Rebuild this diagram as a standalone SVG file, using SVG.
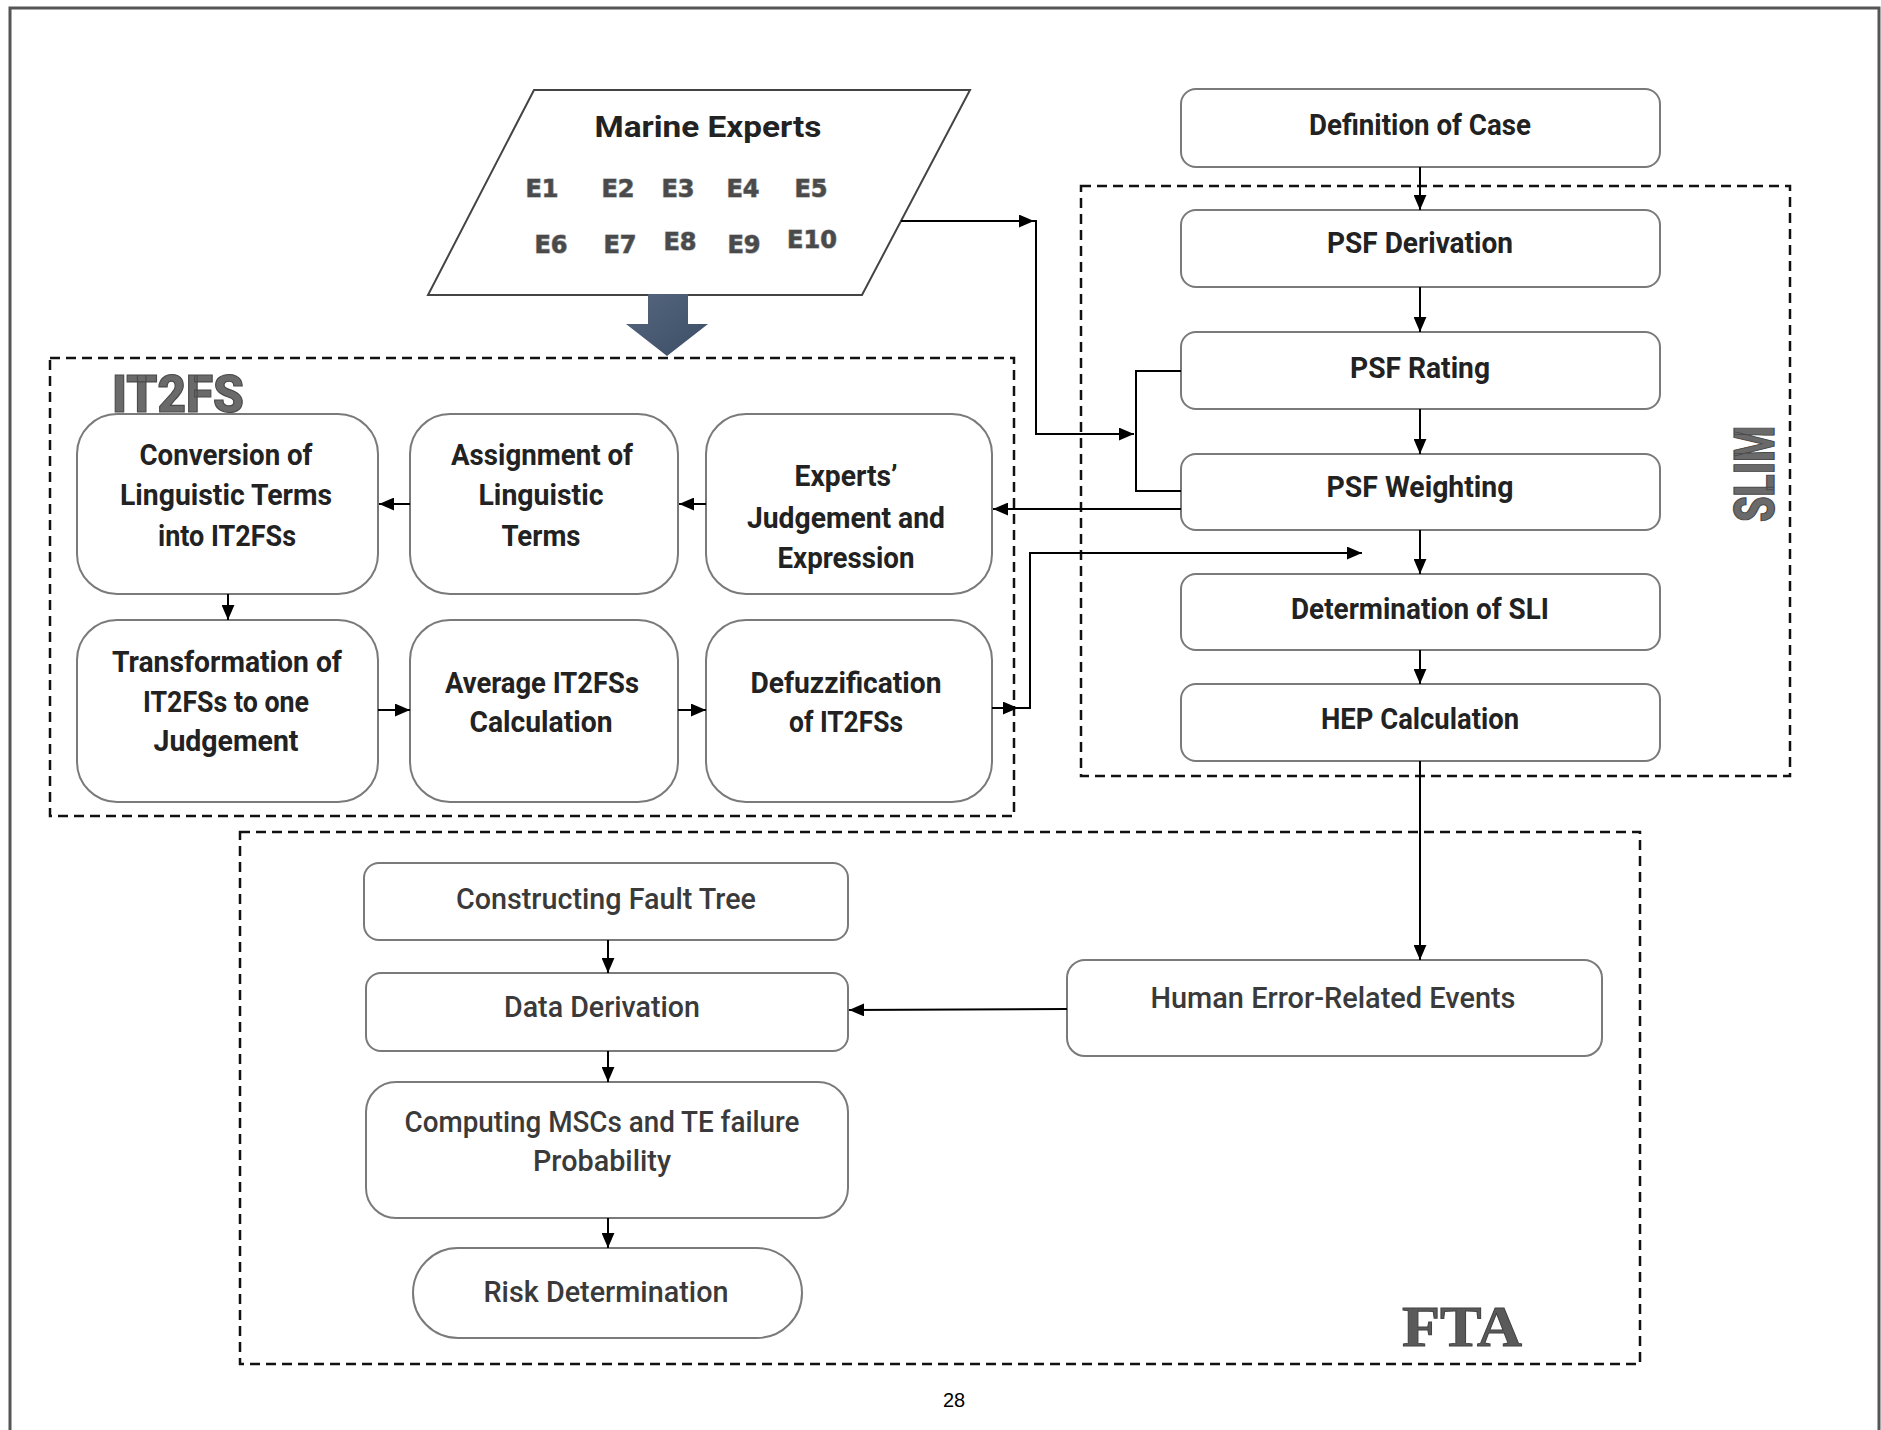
<svg xmlns="http://www.w3.org/2000/svg" width="1881" height="1430" viewBox="0 0 1881 1430">
<defs>
<style>
.box{fill:#fff;stroke:#7a7a7a;stroke-width:2}
.grp{fill:none;stroke:#111;stroke-width:2.5;stroke-dasharray:10 6}
.t{font-family:Roboto,"Liberation Sans",sans-serif;font-weight:700;font-size:30px;fill:#222;text-anchor:middle}
.tf{font-family:Roboto,"Liberation Sans",sans-serif;font-weight:500;font-size:30px;fill:#3a3a3a;text-anchor:middle}
.e{font-family:"DejaVu Sans",sans-serif;font-weight:700;font-size:24px;fill:#4a4a4a;stroke:#9a9a9a;stroke-width:1.2;paint-order:stroke;text-anchor:middle}
.lbl{font-family:Roboto,"Liberation Sans",sans-serif;font-weight:900;fill:#6a6a6a;stroke:#4a4a4a;stroke-width:1.2}
.c{fill:none;stroke:#000;stroke-width:2}
</style>
<marker id="ah" viewBox="0 0 14 12" refX="14" refY="6" markerWidth="15" markerHeight="13" markerUnits="userSpaceOnUse" orient="auto">
<path d="M0,0 L14,6 L0,12 z" fill="#000"/>
</marker>
<linearGradient id="blue" x1="0" y1="0" x2="1" y2="1">
<stop offset="0" stop-color="#55667e"/>
<stop offset="1" stop-color="#3c4d66"/>
</linearGradient>
</defs>

<rect x="10" y="8" width="1869" height="1440" fill="#fff" stroke="#555" stroke-width="3"/>

<g id="groups">
<rect class="grp" x="50" y="358" width="964" height="458"/>
<rect class="grp" x="1081" y="186" width="709" height="590"/>
<rect class="grp" x="240" y="832" width="1400" height="532"/>
<text class="lbl" x="112" y="412" font-size="52" textLength="132" lengthAdjust="spacingAndGlyphs">IT2FS</text>
<text class="lbl" transform="translate(1774,474) rotate(-90)" text-anchor="middle" font-size="56" textLength="96" lengthAdjust="spacingAndGlyphs">SLIM</text>
<text x="1402" y="1346" font-family="'Liberation Serif',serif" font-weight="700" font-size="56" fill="#5a5a5a" stroke="#444" stroke-width="1" textLength="120" lengthAdjust="spacingAndGlyphs">FTA</text>
</g>

<g id="marine-experts">
<polygon points="534,90 970,90 862,295 428,295" fill="#fff" stroke="#444" stroke-width="2"/>
<text class="t" x="708" y="137" font-size="35" font-weight="500" fill="#333" textLength="227" lengthAdjust="spacingAndGlyphs">Marine Experts</text>
<text class="e" x="542" y="197">E1</text>
<text class="e" x="618" y="197">E2</text>
<text class="e" x="678" y="197">E3</text>
<text class="e" x="743" y="197">E4</text>
<text class="e" x="811" y="197">E5</text>
<text class="e" x="551" y="253">E6</text>
<text class="e" x="620" y="253">E7</text>
<text class="e" x="680" y="250">E8</text>
<text class="e" x="744" y="253">E9</text>
<text class="e" x="812" y="248">E10</text>
</g>

<g id="block-arrow">
<path d="M648,294 H688 V324 H708 L667,356 L626,324 H648 Z" fill="url(#blue)"/>
</g>

<g id="def-case"><rect class="box" x="1181" y="89" width="479" height="78" rx="15"/>
<text class="t" x="1420" y="135" textLength="222" lengthAdjust="spacingAndGlyphs">Definition of Case</text></g>
<g id="psf-derivation"><rect class="box" x="1181" y="210" width="479" height="77" rx="15"/>
<text class="t" x="1420" y="253" textLength="186" lengthAdjust="spacingAndGlyphs">PSF Derivation</text></g>
<g id="psf-rating"><rect class="box" x="1181" y="332" width="479" height="77" rx="15"/>
<text class="t" x="1420" y="378" textLength="140" lengthAdjust="spacingAndGlyphs">PSF Rating</text></g>
<g id="psf-weighting"><rect class="box" x="1181" y="454" width="479" height="76" rx="15"/>
<text class="t" x="1420" y="497" textLength="187" lengthAdjust="spacingAndGlyphs">PSF Weighting</text></g>
<g id="sli"><rect class="box" x="1181" y="574" width="479" height="76" rx="15"/>
<text class="t" x="1420" y="619" textLength="258" lengthAdjust="spacingAndGlyphs">Determination of SLI</text></g>
<g id="hep"><rect class="box" x="1181" y="684" width="479" height="77" rx="15"/>
<text class="t" x="1420" y="729" textLength="198" lengthAdjust="spacingAndGlyphs">HEP Calculation</text></g>

<g id="conversion"><rect class="box" x="77" y="414" width="301" height="180" rx="40"/>
<text class="t" x="226" y="465" textLength="173" lengthAdjust="spacingAndGlyphs">Conversion of</text>
<text class="t" x="226" y="505" textLength="212" lengthAdjust="spacingAndGlyphs">Linguistic Terms</text>
<text class="t" x="227" y="546" textLength="138" lengthAdjust="spacingAndGlyphs">into IT2FSs</text></g>
<g id="assignment"><rect class="box" x="410" y="414" width="268" height="180" rx="40"/>
<text class="t" x="542" y="465" textLength="182" lengthAdjust="spacingAndGlyphs">Assignment of</text>
<text class="t" x="541" y="505" textLength="125" lengthAdjust="spacingAndGlyphs">Linguistic</text>
<text class="t" x="541" y="546" textLength="79" lengthAdjust="spacingAndGlyphs">Terms</text></g>
<g id="experts-judgement"><rect class="box" x="706" y="414" width="286" height="180" rx="40"/>
<text class="t" x="846" y="486" textLength="103" lengthAdjust="spacingAndGlyphs">Experts’</text>
<text class="t" x="846" y="528" textLength="198" lengthAdjust="spacingAndGlyphs">Judgement and</text>
<text class="t" x="846" y="568" textLength="137" lengthAdjust="spacingAndGlyphs">Expression</text></g>
<g id="transformation"><rect class="box" x="77" y="620" width="301" height="182" rx="40"/>
<text class="t" x="227" y="672" textLength="230" lengthAdjust="spacingAndGlyphs">Transformation of</text>
<text class="t" x="226" y="712" textLength="166" lengthAdjust="spacingAndGlyphs">IT2FSs to one</text>
<text class="t" x="226" y="751" textLength="145" lengthAdjust="spacingAndGlyphs">Judgement</text></g>
<g id="average"><rect class="box" x="410" y="620" width="268" height="182" rx="40"/>
<text class="t" x="542" y="693" textLength="194" lengthAdjust="spacingAndGlyphs">Average IT2FSs</text>
<text class="t" x="541" y="732" textLength="143" lengthAdjust="spacingAndGlyphs">Calculation</text></g>
<g id="defuzzification"><rect class="box" x="706" y="620" width="286" height="182" rx="40"/>
<text class="t" x="846" y="693" textLength="191" lengthAdjust="spacingAndGlyphs">Defuzzification</text>
<text class="t" x="846" y="732" textLength="114" lengthAdjust="spacingAndGlyphs">of IT2FSs</text></g>

<g id="constructing"><rect class="box" x="364" y="863" width="484" height="77" rx="15"/>
<text class="tf" x="606" y="909" textLength="300" lengthAdjust="spacingAndGlyphs">Constructing Fault Tree</text></g>
<g id="data-derivation"><rect class="box" x="366" y="973" width="482" height="78" rx="15"/>
<text class="tf" x="602" y="1017" textLength="196" lengthAdjust="spacingAndGlyphs">Data Derivation</text></g>
<g id="computing"><rect class="box" x="366" y="1082" width="482" height="136" rx="30"/>
<text class="tf" x="602" y="1132" textLength="395" lengthAdjust="spacingAndGlyphs">Computing MSCs and TE failure</text>
<text class="tf" x="602" y="1171" textLength="138" lengthAdjust="spacingAndGlyphs">Probability</text></g>
<g id="risk"><rect class="box" x="413" y="1248" width="389" height="90" rx="45"/>
<text class="tf" x="606" y="1302" font-weight="700" fill="#222" textLength="245" lengthAdjust="spacingAndGlyphs">Risk Determination</text></g>
<g id="human-error"><rect class="box" x="1067" y="960" width="535" height="96" rx="18"/>
<text class="tf" x="1333" y="1008" textLength="365" lengthAdjust="spacingAndGlyphs">Human Error-Related Events</text></g>

<g id="connectors">
<line class="c" x1="1420" y1="167" x2="1420" y2="210" marker-end="url(#ah)"/>
<line class="c" x1="1420" y1="287" x2="1420" y2="332" marker-end="url(#ah)"/>
<line class="c" x1="1420" y1="409" x2="1420" y2="454" marker-end="url(#ah)"/>
<line class="c" x1="1420" y1="530" x2="1420" y2="574" marker-end="url(#ah)"/>
<line class="c" x1="1420" y1="650" x2="1420" y2="684" marker-end="url(#ah)"/>
<line class="c" x1="1420" y1="761" x2="1420" y2="960" marker-end="url(#ah)"/>
<path class="c" d="M901,221 H1034" marker-end="url(#ah)"/>
<path class="c" d="M1034,221 H1036 V434 H1134" marker-end="url(#ah)"/>
<path class="c" d="M1181,371 H1136 V491 H1181"/>
<path class="c" d="M1181,509 H993" marker-end="url(#ah)"/>
<line class="c" x1="706" y1="504" x2="679" y2="504" marker-end="url(#ah)"/>
<line class="c" x1="410" y1="504" x2="379" y2="504" marker-end="url(#ah)"/>
<line class="c" x1="228" y1="594" x2="228" y2="620" marker-end="url(#ah)"/>
<line class="c" x1="378" y1="710" x2="410" y2="710" marker-end="url(#ah)"/>
<line class="c" x1="678" y1="710" x2="706" y2="710" marker-end="url(#ah)"/>
<path class="c" d="M992,708 H1018" marker-end="url(#ah)"/>
<path class="c" d="M1018,708 H1030 V553 H1362" marker-end="url(#ah)"/>
<line class="c" x1="608" y1="940" x2="608" y2="973" marker-end="url(#ah)"/>
<line class="c" x1="608" y1="1051" x2="608" y2="1082" marker-end="url(#ah)"/>
<line class="c" x1="608" y1="1218" x2="608" y2="1248" marker-end="url(#ah)"/>
<path class="c" d="M1067,1009 L849,1010" marker-end="url(#ah)"/>
</g>

<text x="954" y="1407" font-family="'Liberation Sans',sans-serif" font-size="20" fill="#000" text-anchor="middle">28</text>
</svg>
